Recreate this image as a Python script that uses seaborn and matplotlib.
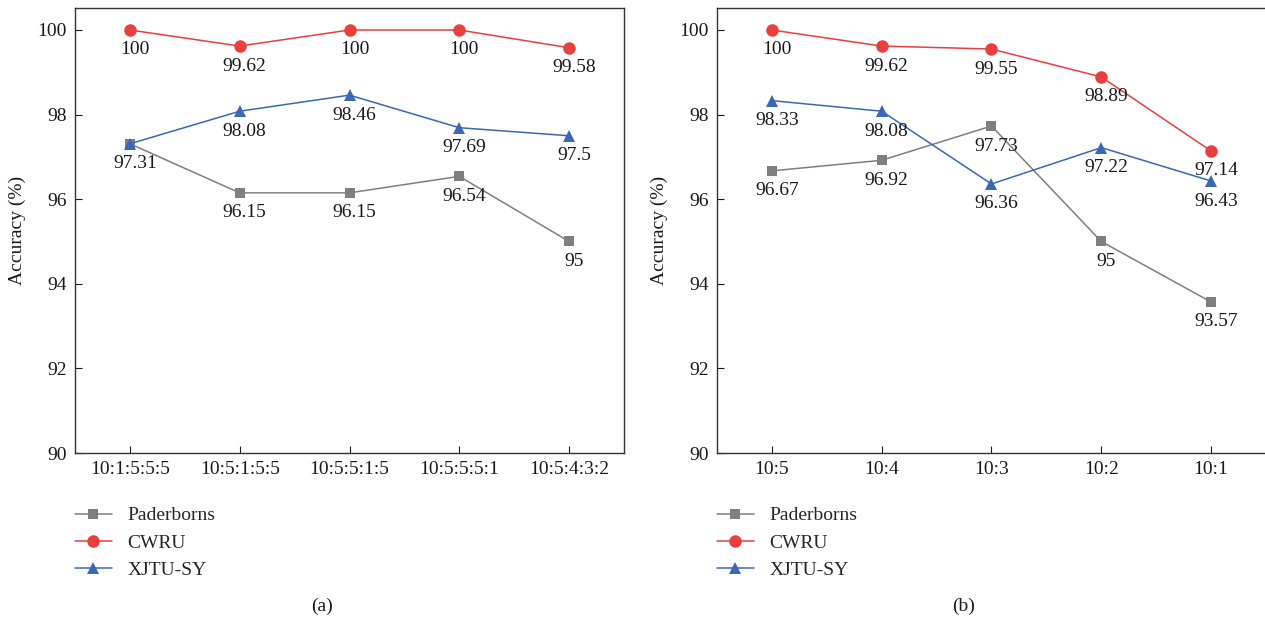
import matplotlib
matplotlib.use("Agg")
import matplotlib.pyplot as plt
import seaborn as sns
import pandas as pd
from matplotlib.lines import Line2D

# ---- data ----
cats_a = ["10:1:5:5:5", "10:5:1:5:5", "10:5:5:1:5", "10:5:5:5:1", "10:5:4:3:2"]
pad_a = [97.31, 96.15, 96.15, 96.54, 95]
cwru_a = [100, 99.62, 100, 100, 99.58]
xjtu_a = [97.31, 98.08, 98.46, 97.69, 97.5]

cats_b = ["10:5", "10:4", "10:3", "10:2", "10:1"]
pad_b = [96.67, 96.92, 97.73, 95, 93.57]
cwru_b = [100, 99.62, 99.55, 98.89, 97.14]
xjtu_b = [98.33, 98.08, 96.36, 97.22, 96.43]

series_names = ["Paderborns", "CWRU", "XJTU-SY"]
yticks = [90, 92, 94, 96, 98, 100]
ylabel = "Accuracy (%)"
captions = ["(a)", "(b)"]

colors = {"Paderborns": "#7f7f7f", "CWRU": "#e8403f", "XJTU-SY": "#3a67b6"}
markers = {"Paderborns": "s", "CWRU": "o", "XJTU-SY": "^"}
msize = {"Paderborns": 7, "CWRU": 9, "XJTU-SY": 8}

sns.set_theme(style="white")
plt.rcParams["font.family"] = ["Liberation Serif", "DejaVu Serif"]

fig = plt.figure(figsize=(12.65, 6.2), dpi=100)
W, H = 1265, 620
ax_a = fig.add_axes([75 / W, 1 - 453 / H, 549 / W, 445 / H])
ax_b = fig.add_axes([717 / W, 1 - 453 / H, 549 / W, 445 / H])

TXT = "#1a1a1a"


def draw(ax, cats, pad, cwru, xjtu, caption):
    rows = []
    for name, vals in zip(series_names, [pad, cwru, xjtu]):
        for i, v in enumerate(vals):
            rows.append({"pos": i, "acc": v, "dataset": name})
    df = pd.DataFrame(rows)
    labelled = set()
    for name in series_names:
        sub = df[df["dataset"] == name]
        sns.lineplot(data=sub, x="pos", y="acc", ax=ax, color=colors[name],
                     marker=markers[name], markersize=msize[name],
                     markeredgewidth=0, linewidth=1.1, legend=False, sort=False)
        for _, r in sub.iterrows():
            v = r["acc"]
            key = (r["pos"], v)
            if key in labelled:
                continue
            labelled.add(key)
            ax.annotate(f"{v:g}", (r["pos"], v), xytext=(5, -20),
                        textcoords="offset pixels", ha="center", va="center",
                        fontsize=14, color=TXT)
    ax.set_xlim(-0.5, 4.5)
    ax.set_ylim(90, 100.52)
    ax.set_xticks(range(len(cats)))
    ax.set_xticklabels(cats, fontsize=14)
    ax.set_yticks(yticks)
    ax.set_xlabel("")
    ax.set_ylabel(ylabel, fontsize=14, color=TXT, labelpad=8)
    ax.tick_params(direction="in", length=5, width=0.8, labelsize=14,
                   colors=TXT, bottom=True, left=True, pad=6)
    for s in ax.spines.values():
        s.set_visible(True)
        s.set_color("#333333")
        s.set_linewidth(1.0)
    handles = [Line2D([], [], color=colors[n], marker=markers[n],
                      markersize=msize[n], markeredgewidth=0, linewidth=1.1)
               for n in series_names]
    ax.legend(handles, series_names, loc="upper left",
              bbox_to_anchor=(0.0, -0.121), frameon=False, fontsize=14,
              handlelength=1.9, labelspacing=0.5, handletextpad=0.8,
              borderaxespad=0, borderpad=0)
    ax.text(0.45, -0.345, caption, transform=ax.transAxes, ha="center",
            va="center", fontsize=14, color=TXT)


draw(ax_a, cats_a, pad_a, cwru_a, xjtu_a, captions[0])
draw(ax_b, cats_b, pad_b, cwru_b, xjtu_b, captions[1])

fig.savefig("out.png", dpi=100)
